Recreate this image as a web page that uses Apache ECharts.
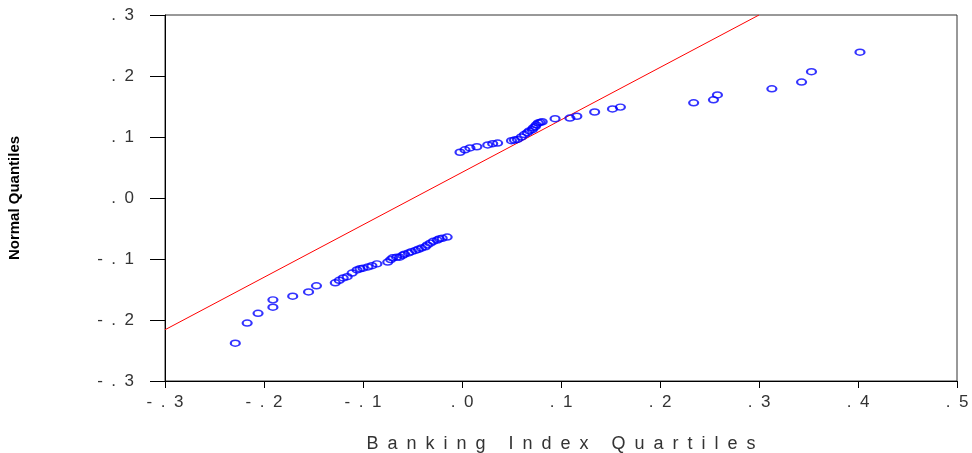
<!DOCTYPE html>
<html>
<head>
<meta charset="utf-8">
<script src="https://cdn.jsdelivr.net/npm/echarts@6/dist/echarts.min.js"></script>
<style>html,body{margin:0;padding:0;background:#fff}#c{width:972px;height:453px}</style>
</head>
<body>
<div id="c"></div>
<script>
// Banking index quantiles (x) vs normal quantiles (y)
const bankQ = [-0.229,-0.217,-0.206,-0.191,-0.191,-0.171,-0.155,-0.147,-0.128,-0.124,-0.120,-0.116,-0.111,-0.106,-0.103,-0.100,-0.095,-0.091,-0.086,-0.075,-0.072,-0.070,-0.066,-0.063,-0.060,-0.058,-0.054,-0.051,-0.047,-0.044,-0.041,-0.037,-0.035,-0.032,-0.029,-0.025,-0.023,-0.020,-0.015,
  -0.002,0.003,0.008,0.015,0.026,0.031,0.036,0.050,0.053,0.056,0.060,0.063,0.066,0.068,0.071,0.072,0.074,0.075,0.077,0.079,0.081,0.094,0.109,0.116,0.134,0.152,0.160,
  0.234,0.254,0.258,0.313,0.343,0.353,0.402];
const normQ = [-0.238,-0.205,-0.189,-0.179,-0.167,-0.161,-0.154,-0.144,-0.139,-0.135,-0.131,-0.129,-0.123,-0.118,-0.116,-0.115,-0.113,-0.111,-0.108,-0.105,-0.101,-0.098,-0.097,-0.097,-0.094,-0.092,-0.090,-0.088,-0.086,-0.084,-0.082,-0.080,-0.077,-0.074,-0.071,-0.069,-0.067,-0.066,-0.064,
  0.075,0.079,0.082,0.084,0.087,0.089,0.090,0.094,0.095,0.096,0.100,0.104,0.107,0.110,0.112,0.115,0.117,0.120,0.123,0.124,0.125,0.130,0.131,0.134,0.141,0.146,0.149,
  0.156,0.161,0.169,0.179,0.190,0.207,0.239];
// reference line endpoints
const refX = [-0.3, 0.3];
const refY = [-0.216, 0.300];

const xTitle = 'Banking Index Quartiles';
const yTitle = 'Normal Quantiles';

function spaced(s, sep) { return s.split('').join(sep); }
function fmt(v) {
  let s = (Math.round(v * 10) / 10).toFixed(1);
  s = s.replace(/^(-?)0\./, '$1.');
  return spaced(s, '\u2002');
}

const chart = echarts.init(document.getElementById('c'), null, {renderer: 'canvas'});
chart.setOption({
  animation: false,
  backgroundColor: '#fff',
  grid: {left: 165, right: 15, top: 15, bottom: 72, containLabel: false, outerBoundsMode: 'none',
    show: true, borderColor: '#333', borderWidth: 1, backgroundColor: 'transparent'},
  xAxis: {
    type: 'value', min: -0.3, max: 0.5, interval: 0.1,
    name: spaced(xTitle, '\u2002'), nameLocation: 'middle', nameGap: 54,
    nameTextStyle: {fontFamily: 'Liberation Sans', fontSize: 18, color: '#333'},
    axisLine: {show: true, onZero: false, lineStyle: {color: '#000', width: 1}},
    axisTick: {show: true, inside: false, length: 7, lineStyle: {color: '#000'}},
    axisLabel: {margin: 13, fontFamily: 'Liberation Sans', fontSize: 17, color: '#333', formatter: fmt},
    splitLine: {show: false}
  },
  yAxis: {
    type: 'value', min: -0.3, max: 0.3, interval: 0.1,
    name: yTitle, nameLocation: 'middle', nameGap: 143,
    nameTextStyle: {fontFamily: 'Liberation Sans', fontSize: 15, fontWeight: 'bold', color: '#000'},
    axisLine: {show: true, onZero: false, lineStyle: {color: '#000', width: 1}},
    axisTick: {show: true, inside: false, length: 15, lineStyle: {color: '#000'}},
    axisLabel: {margin: 31, fontFamily: 'Liberation Sans', fontSize: 17, color: '#333', formatter: fmt},
    splitLine: {show: false}
  },
  series: [
    {
      type: 'line', data: refX.map((x, i) => [x, refY[i]]),
      symbol: 'none', lineStyle: {color: '#ff0000', width: 1}, clip: true, z: 2
    },
    {
      type: 'scatter', data: bankQ.map((x, i) => [x, normQ[i]]),
      symbol: 'circle', symbolSize: [9, 6],
      itemStyle: {color: 'rgba(255,255,255,0)', borderColor: '#0000ff', borderWidth: 1.8}, z: 3
    }
  ]
});
</script>
</body>
</html>
